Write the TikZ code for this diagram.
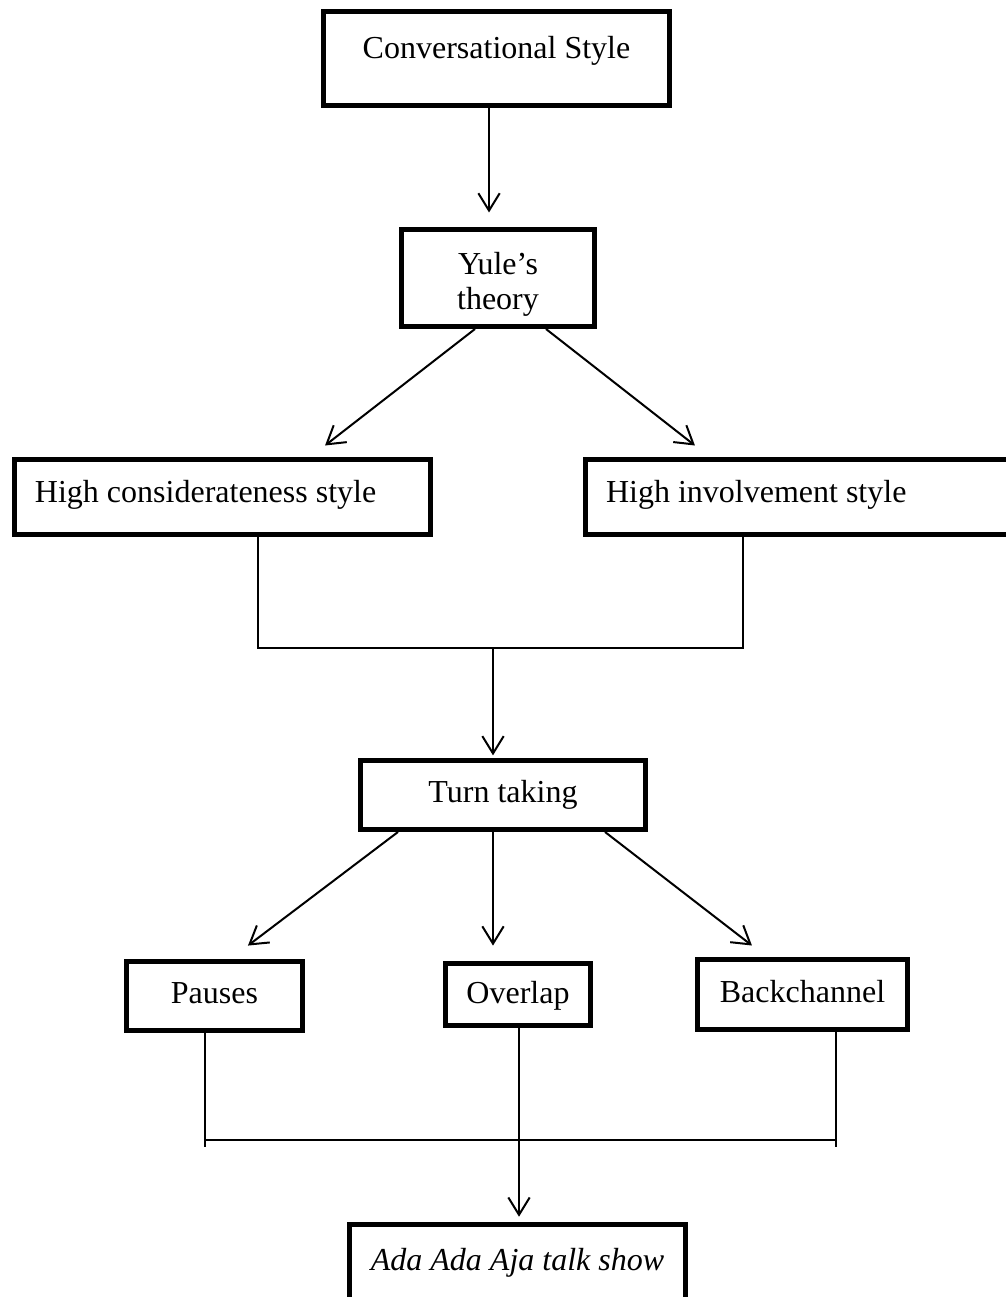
\documentclass[tikz,border=0pt]{standalone}
\usepackage{fontspec}
\setmainfont{Liberation Serif}
\usetikzlibrary{arrows.meta}
\tikzset{
  box/.style={draw, line width=3.75pt, inner sep=0pt, anchor=base,
    font=\fontsize{24pt}{26.25pt}\selectfont},
  arr/.style={-{Straight Barb[length=13pt,width=16pt]}, line width=1.5pt},
  link/.style={line width=1pt}
}
\begin{document}
\begin{tikzpicture}[x=0.75pt,y=-0.75pt]
  \useasboundingbox (0,0) rectangle (1006,1297);
  \clip (0,0) rectangle (1006,1297);
  \node[box, minimum width=259.5pt, text height=34.9pt, text depth=35.6pt] (conv) at (496.5,58) {Conversational Style};
  \node[box, anchor=center, align=center, minimum width=144.75pt, minimum height=72.75pt] (yule) at (498,278) {\rule{0pt}{26pt}Yule’s\\theory};
  \node[box, inner xsep=15.4pt, text width=281.25pt, align=flush left, text height=31.9pt, text depth=24.4pt] (hcs) at (222.5,502) {High considerateness style};
  \node[box, inner xsep=15.4pt, text width=302.6pt, align=flush left, text height=31.9pt, text depth=24.4pt] (hin) at (807.75,502) {High involvement style};
  \node[box, minimum width=213.75pt, text height=31.1pt, text depth=20.6pt] (turn) at (503,802) {Turn taking};
  \node[box, minimum width=132pt, text height=31.1pt, text depth=20.6pt] (pau) at (214.5,1003) {Pauses};
  \node[box, minimum width=108.75pt, text height=29.6pt, text depth=16.9pt] (ovl) at (518,1003) {Overlap};
  \node[box, minimum width=157.5pt, text height=31.9pt, text depth=20.6pt] (bch) at (802.5,1002) {Backchannel};
  \node[box, minimum width=252pt, text height=34.1pt, text depth=40pt] (ada) at (517.5,1270) {\itshape Ada Ada Aja talk show};

  \draw[arr, shorten >=10.9pt] ([xshift=-5.6pt]conv.south) -- ([xshift=-5.6pt]conv.south |- yule.north);
  \draw[arr] ([xshift=-17.25pt]yule.south) -- ([xshift=76.9pt,yshift=8.6pt]hcs.north);
  \draw[arr] ([xshift=36pt]yule.south) -- ([xshift=-84.6pt,yshift=8.6pt]hin.north);

  \coordinate (j1) at (493,648);
  \draw[link] ([xshift=26.6pt]hcs.south) |- (j1) -| ([xshift=-48.6pt]hin.south);
  \draw[arr, shorten >=2pt] (j1) -- (j1 |- turn.north);

  \draw[arr] ([xshift=-78.75pt]turn.south) -- ([xshift=25.1pt,yshift=10.1pt]pau.north);
  \draw[arr, shorten >=11.6pt] ([xshift=-7.5pt]turn.south) -- ([xshift=-7.5pt]turn.south |- ovl.north);
  \draw[arr] ([xshift=76.5pt]turn.south) -- ([xshift=-37.9pt,yshift=8.6pt]bch.north);

  \coordinate (j2) at (519,1140);
  \draw[link] ([xshift=-7.1pt]pau.south) -- ([xshift=-7.1pt]pau.south |- j2) -- ++(0,7);
  \draw[link] ([xshift=25.1pt]bch.south) -- ([xshift=25.1pt]bch.south |- j2) -- ++(0,7);
  \draw[link] ([xshift=-7.1pt]pau.south |- j2) -- ([xshift=25.1pt]bch.south |- j2);
  \draw[arr, shorten >=4pt] ([xshift=0.75pt]ovl.south) -- ([xshift=0.75pt]ovl.south |- ada.north);
\end{tikzpicture}
\end{document}
